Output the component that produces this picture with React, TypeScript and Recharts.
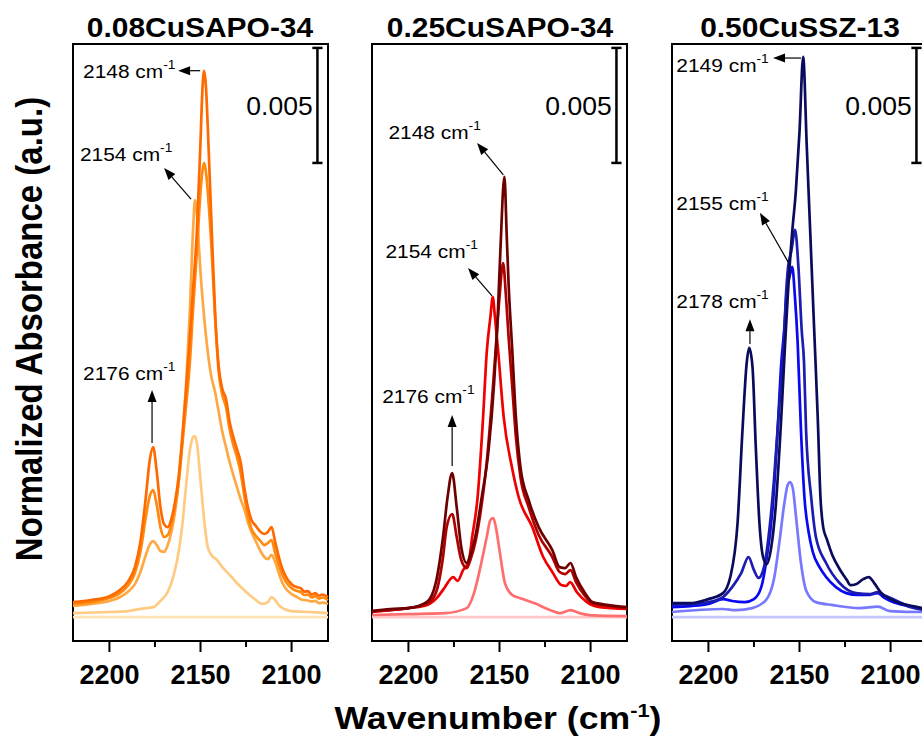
import React from 'react';
import { LineChart, Line, XAxis, YAxis, ReferenceArea, ReferenceLine, ReferenceDot } from 'recharts';

const FONT = '"Liberation Sans", Arial, Helvetica, sans-serif';

// wavenumber (cm-1) and absorbance (x 10^-3), one pair of arrays per spectrum

// 0.08CuSAPO-34
const wn08a = [2220, 2210, 2200, 2195, 2190, 2186, 2183, 2180, 2178, 2176, 2174, 2172, 2170, 2168, 2166, 2164, 2162, 2160, 2158, 2156, 2154, 2152, 2150, 2149, 2148, 2147, 2146, 2144, 2142, 2140, 2138, 2136, 2134, 2132, 2130, 2128, 2126, 2124, 2122, 2120, 2117, 2115, 2113, 2111, 2109, 2107, 2105, 2103, 2100, 2097, 2095, 2093, 2091, 2089, 2087, 2085, 2083, 2080];
const ab08a = [0.65, 0.74, 0.91, 1.13, 1.52, 2.17, 3.26, 5.22, 6.74, 7.39, 6.3, 4.78, 4.04, 3.91, 4.26, 5.0, 6.09, 7.83, 9.78, 11.96, 14.35, 16.74, 20.65, 22.83, 23.74, 23.04, 21.3, 17.17, 13.26, 10.87, 9.91, 9.48, 8.48, 7.83, 7.3, 6.74, 5.65, 4.78, 4.22, 4.0, 3.7, 3.61, 3.7, 3.91, 3.26, 2.61, 2.09, 1.74, 1.43, 1.3, 1.26, 1.1, 1.13, 0.98, 1.04, 0.93, 0.98, 0.87];
const ab08b = [0.57, 0.65, 0.83, 1.0, 1.35, 1.91, 2.83, 4.35, 5.22, 5.52, 4.87, 3.91, 3.48, 3.57, 4.0, 4.78, 5.87, 7.48, 9.13, 10.87, 13.48, 15.87, 18.48, 19.35, 19.74, 19.35, 18.48, 16.09, 13.04, 10.65, 9.65, 9.13, 8.17, 7.48, 6.96, 6.3, 5.3, 4.43, 3.83, 3.57, 3.3, 3.13, 3.22, 3.35, 2.78, 2.26, 1.83, 1.52, 1.26, 1.13, 1.09, 0.96, 0.98, 0.85, 0.91, 0.8, 0.85, 0.74];
const wn08c = [2220, 2210, 2200, 2195, 2190, 2186, 2183, 2180, 2178, 2176, 2174, 2172, 2170, 2168, 2166, 2164, 2162, 2160, 2158, 2156, 2154, 2153, 2152, 2151, 2150, 2148, 2146, 2144, 2142, 2140, 2138, 2136, 2134, 2132, 2130, 2128, 2126, 2124, 2122, 2120, 2117, 2115, 2113, 2111, 2109, 2107, 2105, 2103, 2100, 2097, 2095, 2093, 2091, 2089, 2087, 2085, 2083, 2080];
const ab08c = [0.48, 0.57, 0.7, 0.83, 1.09, 1.43, 1.96, 2.7, 3.13, 3.3, 3.13, 2.87, 2.83, 3.13, 3.7, 4.57, 5.87, 7.61, 10.0, 13.04, 16.96, 18.13, 17.61, 16.3, 15.0, 13.04, 11.52, 10.43, 9.78, 8.91, 8.04, 7.39, 6.74, 6.17, 5.65, 5.13, 4.7, 4.13, 3.7, 3.35, 2.87, 2.61, 2.52, 2.7, 2.39, 1.91, 1.48, 1.22, 1.0, 0.87, 0.78, 0.74, 0.72, 0.68, 0.7, 0.61, 0.63, 0.57];
const wn08d = [2220, 2200, 2190, 2180, 2176, 2172, 2168, 2165, 2162, 2160, 2158, 2156, 2154, 2153, 2152, 2150, 2148, 2146, 2144, 2141, 2138, 2134, 2130, 2126, 2121, 2116, 2113, 2111, 2109, 2107, 2104, 2100, 2090, 2080];
const ab08d = [0.17, 0.22, 0.26, 0.39, 0.43, 0.7, 1.09, 1.74, 2.83, 4.0, 5.65, 7.17, 7.83, 7.87, 7.57, 5.96, 4.22, 3.04, 2.7, 2.48, 2.17, 1.83, 1.48, 1.17, 0.83, 0.57, 0.65, 0.87, 0.74, 0.52, 0.35, 0.26, 0.22, 0.17];

// 0.25CuSAPO-34
const wn25a = [2220, 2210, 2200, 2190, 2185, 2181, 2178.5, 2176, 2173.5, 2171, 2168, 2166, 2163, 2160, 2156, 2153, 2151, 2149.5, 2147.3, 2146, 2145, 2143, 2141, 2138.5, 2134, 2128.5, 2121, 2117, 2114, 2111, 2108, 2103, 2099, 2090, 2080];
const ab25a = [0.26, 0.35, 0.39, 0.65, 1.48, 3.48, 5.22, 6.26, 4.78, 3.04, 2.35, 2.7, 3.61, 5.09, 7.26, 10.13, 13.04, 15.96, 19.13, 16.5, 14.48, 11.61, 8.7, 6.52, 5.09, 3.91, 2.91, 2.17, 2.13, 2.35, 1.74, 1.04, 0.65, 0.52, 0.43];
const wn25b = [2220, 2210, 2200, 2190, 2185, 2181, 2179, 2176, 2173.5, 2171, 2168, 2166, 2163, 2160, 2157, 2154, 2152, 2150, 2148, 2146.5, 2145, 2143, 2141, 2138.5, 2134, 2128.5, 2121, 2117, 2114, 2111, 2108, 2103, 2099, 2090, 2080];
const ab25b = [0.26, 0.3, 0.39, 0.57, 1.04, 2.61, 3.91, 4.48, 3.48, 2.48, 2.13, 2.48, 3.35, 4.78, 6.74, 9.57, 11.74, 13.91, 15.39, 14.0, 12.17, 10.0, 7.83, 6.09, 4.78, 3.57, 2.61, 1.96, 1.87, 2.04, 1.52, 0.91, 0.61, 0.48, 0.39];
const wn25c = [2220, 2210, 2200, 2190, 2184, 2180, 2177, 2175.5, 2173, 2170, 2167, 2165, 2162, 2159, 2157, 2155, 2153.7, 2152.5, 2150.8, 2147.7, 2143.2, 2139.5, 2132, 2126, 2121, 2116, 2113.5, 2111.2, 2107.6, 2102, 2095, 2080];
const ab25c = [0.22, 0.3, 0.39, 0.52, 0.87, 1.3, 1.65, 1.74, 1.57, 2.04, 2.39, 3.48, 5.22, 8.7, 11.52, 13.04, 13.91, 13.04, 11.61, 8.7, 6.52, 5.22, 3.91, 2.61, 1.96, 1.39, 1.35, 1.52, 1.09, 0.65, 0.43, 0.35];
const wn25d = [2220, 2200, 2180, 2168, 2164, 2160, 2157, 2155, 2153.4, 2152, 2150, 2147, 2143, 2139, 2131, 2122, 2117, 2111, 2106, 2099, 2080];
const ab25d = [0.09, 0.13, 0.17, 0.39, 1.04, 2.35, 3.48, 4.22, 4.3, 3.91, 2.91, 1.48, 0.96, 0.83, 0.61, 0.3, 0.17, 0.3, 0.17, 0.07, 0.04];

// 0.50CuSSZ-13
const wn50a = [2220, 2209, 2200, 2192, 2188, 2184, 2181.3, 2179, 2177.6, 2175.8, 2174, 2172, 2170, 2168, 2165.5, 2163, 2160, 2158, 2156, 2154, 2152, 2150, 2148, 2146, 2144, 2142, 2140, 2138.5, 2137, 2135, 2132, 2128, 2124, 2122, 2119, 2115, 2112, 2109, 2105, 2100, 2095, 2088, 2080];
const ab50a = [0.61, 0.61, 0.78, 1.04, 1.74, 4.09, 8.13, 11.04, 11.7, 10.87, 7.39, 4.09, 2.61, 2.3, 3.04, 4.87, 8.7, 11.74, 14.57, 16.74, 18.52, 21.09, 24.35, 20.43, 16.52, 12.61, 8.7, 5.22, 3.91, 3.39, 2.7, 2.09, 1.61, 1.39, 1.43, 1.65, 1.74, 1.48, 1.04, 0.78, 0.61, 0.48, 0.35];
const wn50b = [2220, 2210, 2200, 2192, 2187, 2182, 2178, 2175, 2172.5, 2169.5, 2167, 2164, 2161, 2159, 2157.5, 2156.3, 2154.5, 2152.4, 2150.6, 2148.8, 2147.5, 2146.4, 2143.6, 2141, 2135.4, 2128, 2119, 2111, 2107, 2104, 2100, 2089, 2080];
const ab50b = [0.52, 0.57, 0.65, 0.87, 1.3, 1.91, 2.61, 2.04, 1.7, 2.17, 3.48, 5.96, 9.3, 11.3, 13.9, 15.2, 15.9, 16.83, 15.22, 12.48, 11.04, 8.13, 5.22, 3.48, 2.35, 1.48, 1.04, 1.0, 1.09, 0.96, 0.83, 0.43, 0.3];
const wn50c = [2220, 2210, 2200, 2192, 2187, 2180, 2175, 2171, 2168.4, 2164.7, 2162, 2160, 2158.4, 2157, 2155.5, 2154, 2152.5, 2151, 2149.2, 2147.3, 2145, 2142.7, 2139, 2135.4, 2130, 2124.3, 2118, 2113, 2107, 2104, 2100, 2090, 2080];
const ab50c = [0.43, 0.48, 0.57, 0.78, 0.7, 0.65, 0.78, 1.3, 2.35, 4.78, 8.13, 11.04, 12.48, 14.13, 14.78, 15.22, 13.91, 11.91, 8.13, 5.22, 3.7, 2.83, 2.17, 1.74, 1.3, 1.04, 0.96, 0.96, 1.04, 0.87, 0.7, 0.48, 0.35];
const wn50d = [2220, 2192, 2185, 2176, 2168.4, 2163.8, 2161.1, 2158.3, 2156.5, 2155.2, 2153.7, 2151.9, 2149.2, 2146.4, 2141, 2131.7, 2117, 2107, 2100.4, 2083, 2080];
const ab50d = [0.22, 0.35, 0.3, 0.39, 0.74, 1.74, 3.22, 4.96, 5.74, 5.87, 5.61, 4.35, 2.35, 1.17, 0.65, 0.52, 0.39, 0.45, 0.26, 0.22, 0.22];

// flat reference spectrum, same in all three panels
const wnFlat = [2220, 2150, 2080];
const abFlat = [0, 0, 0];

const xTicks = [2200, 2175, 2150, 2125, 2100];
const majorTicks = [2200, 2150, 2100];

const Y_MIN = -1.04;
const Y_MAX = 24.91;

const toPoints = (wn: number[], ab: number[]) => wn.map((w, i) => ({ w, v: ab[i] }));

type Series = { wn: number[]; ab: number[]; color: string };
type Note = { label: string; text: [number, number]; from: [number, number]; to: [number, number] };

const WaveTick = (props: any) => {
  const { x, y, payload } = props;
  const major = majorTicks.includes(payload.value);
  return (
    <g>
      <line x1={x} y1={y - 11} x2={x} y2={major ? y : y - 5} stroke="#000" strokeWidth={2} />
      {major && (
        <text x={x} y={y + 32} textAnchor="middle" fontSize={27} fontWeight="bold" fontFamily={FONT} fill="#000">
          {payload.value}
        </text>
      )}
    </g>
  );
};

const Arrow = (props: any) => {
  const { x1, y1, x2, y2 } = props;
  const a = Math.atan2(y2 - y1, x2 - x1);
  const L = 12;
  const W = 4.5;
  const bx = x2 - L * Math.cos(a);
  const by = y2 - L * Math.sin(a);
  const px = -Math.sin(a) * W;
  const py = Math.cos(a) * W;
  return (
    <g>
      <line x1={x1} y1={y1} x2={bx} y2={by} stroke="#000" strokeWidth={1.2} />
      <polygon points={`${x2},${y2} ${bx + px},${by + py} ${bx - px},${by - py}`} fill="#000" />
    </g>
  );
};

const NoteText = ({ cx, cy, label }: any) => (
  <text transform={`translate(${cx},${cy}) scale(1.1,1)`} fontSize={19} fontFamily={FONT} fill="#000">
    <tspan>{label} cm</tspan>
    <tspan dy={-9} fontSize={12.5}>-1</tspan>
  </text>
);

const ScaleText = ({ cx, cy }: any) => (
  <text x={cx} y={cy} textAnchor="end" fontSize={26.5} fontFamily={FONT} fill="#000">
    0.005
  </text>
);

const panels: { title: string; left: number; center: number; series: Series[]; notes: Note[] }[] = [
  {
    title: '0.08CuSAPO-34',
    left: 63,
    center: 200,
    series: [
      { wn: wnFlat, ab: abFlat, color: '#FFE2B6' },
      { wn: wn08d, ab: ab08d, color: '#FFCB82' },
      { wn: wn08c, ab: ab08c, color: '#FFA843' },
      { wn: wn08a, ab: ab08b, color: '#FF8A10' },
      { wn: wn08a, ab: ab08a, color: '#FF6A00' },
    ],
    notes: [
      { label: '2148', text: [2214.5, 23.43], from: [2150.2, 23.75], to: [2162.3, 23.75] },
      { label: '2154', text: [2216.2, 19.84], from: [2155.2, 18.17], to: [2170, 19.52] },
      { label: '2176', text: [2214.5, 10.3], from: [2176.6, 7.57], to: [2176.6, 9.87] },
    ],
  },
  {
    title: '0.25CuSAPO-34',
    left: 362,
    center: 500,
    series: [
      { wn: wnFlat, ab: abFlat, color: '#FFC8C8' },
      { wn: wn25d, ab: ab25d, color: '#FF6E6E' },
      { wn: wn25c, ab: ab25c, color: '#F00000' },
      { wn: wn25b, ab: ab25b, color: '#B00000' },
      { wn: wn25a, ab: ab25a, color: '#6E0000' },
    ],
    notes: [
      { label: '2148', text: [2211.0, 20.77], from: [2147.9, 19.22], to: [2162.3, 20.61] },
      { label: '2154', text: [2212.6, 15.6], from: [2154.1, 13.96], to: [2167.3, 15.17] },
      { label: '2176', text: [2214.4, 9.29], from: [2176, 6.57], to: [2176, 8.78] },
    ],
  },
  {
    title: '0.50CuSSZ-13',
    left: 662,
    center: 800,
    series: [
      { wn: wnFlat, ab: abFlat, color: '#C6C6FF' },
      { wn: wn50d, ab: ab50d, color: '#7878FF' },
      { wn: wn50c, ab: ab50c, color: '#0808F2' },
      { wn: wn50b, ab: ab50b, color: '#1C1CB0' },
      { wn: wn50a, ab: ab50a, color: '#0B0B5C' },
    ],
    notes: [
      { label: '2149', text: [2217.6, 23.71], from: [2149.1, 24.3], to: [2164.5, 24.3] },
      { label: '2155', text: [2217.6, 17.7], from: [2156.2, 15.43], to: [2171.7, 17.57] },
      { label: '2178', text: [2217.6, 13.42], from: [2177.2, 11.87], to: [2177.2, 12.95] },
    ],
  },
];

const BAR_X = 2085.8;
const BAR_LO = 19.74;
const BAR_HI = 24.74;

function Panel({ left, series, notes }: { left: number; series: Series[]; notes: Note[] }) {
  return (
    <div style={{ position: 'absolute', left, top: 0 }}>
      <LineChart width={275} height={742} margin={{ top: 44, right: 10, bottom: 61, left: 10 }}>
        <XAxis
          dataKey="w"
          type="number"
          domain={[2080, 2220]}
          reversed
          ticks={xTicks}
          interval={0}
          tickSize={11}
          tickMargin={0}
          tickLine={false}
          axisLine={false}
          height={40}
          tick={(p: any) => <WaveTick {...p} />}
        />
        <YAxis hide type="number" domain={[Y_MIN, Y_MAX]} />
        {series.map((s, i) => (
          <Line
            key={i}
            data={toPoints(s.wn, s.ab)}
            dataKey="v"
            type="monotone"
            stroke={s.color}
            strokeWidth={2.7}
            dot={false}
            activeDot={false}
            isAnimationActive={false}
          />
        ))}
        <ReferenceArea x1={2220} x2={2080} y1={Y_MIN} y2={Y_MAX} fill="none" stroke="#000" strokeWidth={2} ifOverflow="visible" />
        <ReferenceLine segment={[{ x: BAR_X, y: BAR_LO }, { x: BAR_X, y: BAR_HI }]} stroke="#000" strokeWidth={2.5} />
        <ReferenceLine segment={[{ x: BAR_X + 2.8, y: BAR_HI }, { x: BAR_X - 2.8, y: BAR_HI }]} stroke="#000" strokeWidth={2.5} />
        <ReferenceLine segment={[{ x: BAR_X + 2.8, y: BAR_LO }, { x: BAR_X - 2.8, y: BAR_LO }]} stroke="#000" strokeWidth={2.5} />
        <ReferenceDot x={2088.4} y={21.83} r={1} shape={(p: any) => <ScaleText cx={p.cx} cy={p.cy} />} />
        {notes.map((n) => (
          <ReferenceLine
            key={'a' + n.label}
            segment={[{ x: n.from[0], y: n.from[1] }, { x: n.to[0], y: n.to[1] }]}
            shape={(p: any) => <Arrow {...p} />}
          />
        ))}
        {notes.map((n) => (
          <ReferenceDot
            key={'t' + n.label}
            x={n.text[0]}
            y={n.text[1]}
            r={1}
            shape={(p: any) => <NoteText cx={p.cx} cy={p.cy} label={n.label} />}
          />
        ))}
      </LineChart>
    </div>
  );
}

export default function App() {
  return (
    <div
      style={{
        position: 'absolute',
        left: 0,
        top: 0,
        width: 922,
        height: 742,
        overflow: 'hidden',
        background: '#fff',
        fontFamily: FONT,
      }}
    >
      {panels.map((p) => (
        <Panel key={p.title} left={p.left} series={p.series} notes={p.notes} />
      ))}
      <svg width={922} height={742} style={{ position: 'absolute', left: 0, top: 0, pointerEvents: 'none' }}>
        {panels.map((p) => (
          <text
            key={p.title}
            transform={`translate(${p.center},37) scale(1.07,1)`}
            textAnchor="middle"
            fontSize={28}
            fontWeight="bold"
            fontFamily={FONT}
            fill="#000"
          >
            {p.title}
          </text>
        ))}
        <text
          transform="translate(498,729) scale(1.15,1)"
          textAnchor="middle"
          fontSize={31}
          fontWeight="bold"
          fontFamily={FONT}
          fill="#000"
        >
          <tspan>Wavenumber (cm</tspan>
          <tspan dy={-12} fontSize={19}>-1</tspan>
          <tspan dy={12}>)</tspan>
        </text>
        <text
          transform="translate(42,329) scale(1.1,1) rotate(-90)"
          textAnchor="middle"
          fontSize={33}
          fontWeight="bold"
          fontFamily={FONT}
          fill="#000"
        >
          Normalized Absorbance (a.u.)
        </text>
      </svg>
    </div>
  );
}
